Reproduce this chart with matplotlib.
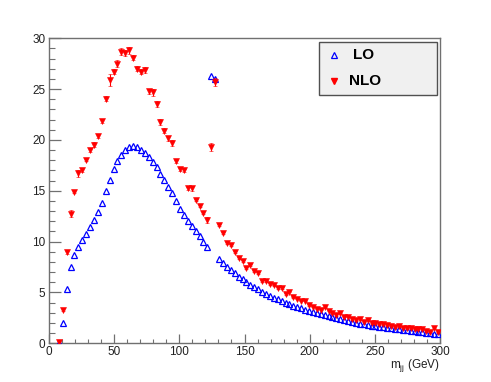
import numpy as np
import matplotlib
matplotlib.use("Agg")
import matplotlib.pyplot as plt
from matplotlib.patches import Rectangle

plt.rcParams['font.family'] = ['Liberation Sans', 'DejaVu Sans']
plt.rcParams['mathtext.fontset'] = 'custom'
plt.rcParams['mathtext.rm'] = 'Liberation Sans'

# bin centres (3 GeV bins), starting at 7.5 GeV
mjj = np.arange(7.5, 300, 3.0)

lo = [0.05, 2.0, 5.35, 7.55, 8.7, 9.44, 10.13, 10.78, 11.41, 12.13,
      12.91, 13.83, 15.0, 16.1, 17.12, 17.93, 18.55, 19.02, 19.3, 19.42,
      19.3, 19.05, 18.74, 18.35, 17.86, 17.3, 16.68, 16.02, 15.4, 14.75,
      13.96, 13.25, 12.65, 12.05, 11.55, 11.05, 10.55, 10.0, 9.5, 26.3,
      26.0, 8.27, 7.9, 7.54, 7.21, 6.88, 6.57, 6.29, 6.03, 5.77,
      5.54, 5.31, 5.08, 4.87, 4.67, 4.48, 4.31, 4.15, 4.0, 3.85,
      3.71, 3.58, 3.45, 3.32, 3.2, 3.08, 2.96, 2.85, 2.75, 2.64,
      2.54, 2.44, 2.35, 2.26, 2.17, 2.08, 2.0, 1.93, 1.86, 1.8,
      1.74, 1.68, 1.62, 1.57, 1.52, 1.47, 1.42, 1.37, 1.32, 1.28,
      1.23, 1.19, 1.14, 1.1, 1.05, 1.0, 0.94, 0.87]

nlo = [0.1, 3.3, 8.97, 12.73, 14.9, 16.72, 17.08, 18.07, 19.05, 19.52,
       20.39, 21.9, 24.05, 25.9, 26.71, 27.52, 28.7, 28.52, 28.8, 28.08,
       27.0, 26.69, 26.84, 24.8, 24.67, 23.5, 21.77, 20.91, 20.17, 19.67,
       17.9, 17.12, 17.0, 15.24, 15.24, 14.07, 13.55, 12.85, 12.13, 19.3,
       25.7, 11.64, 10.82, 9.9, 9.64, 8.95, 8.42, 8.13, 7.44, 7.7,
       7.14, 6.95, 6.13, 6.13, 5.86, 5.7, 5.41, 5.41, 4.82, 5.08,
       4.52, 4.39, 4.19, 4.19, 3.77, 3.6, 3.4, 3.3, 3.54, 3.21,
       2.95, 2.78, 2.95, 2.62, 2.62, 2.4, 2.29, 2.39, 2.13, 2.29,
       1.97, 1.97, 1.87, 1.87, 1.8, 1.74, 1.57, 1.7, 1.54, 1.48,
       1.48, 1.41, 1.38, 1.41, 1.21, 1.15, 1.48, 1.08]

nlo_err = [0.15, 0.15, 0.15, 0.35, 0.15, 0.35, 0.2, 0.15, 0.2, 0.25,
           0.15, 0.2, 0.25, 0.6, 0.25, 0.3, 0.3, 0.3, 0.3, 0.25,
           0.25, 0.25, 0.3, 0.25, 0.3, 0.3, 0.25, 0.25, 0.25, 0.3,
           0.15, 0.15, 0.15, 0.15, 0.25, 0.1, 0.15, 0.15, 0.25, 0.4,
           0.35, 0.1, 0.1, 0.1, 0.1, 0.1, 0.1, 0.1, 0.1, 0.1,
           0.1, 0.1, 0.08, 0.08, 0.08, 0.08, 0.08, 0.08, 0.08, 0.08,
           0.07, 0.07, 0.07, 0.07, 0.07, 0.07, 0.07, 0.07, 0.07, 0.07,
           0.06, 0.06, 0.06, 0.06, 0.06, 0.06, 0.06, 0.06, 0.06, 0.06,
           0.05, 0.05, 0.05, 0.05, 0.05, 0.05, 0.05, 0.05, 0.05, 0.05,
           0.05, 0.05, 0.05, 0.05, 0.05, 0.05, 0.05, 0.05]

labels = ['LO', 'NLO']

fig = plt.figure(figsize=(4.91, 3.82), dpi=100)
ax = fig.add_axes([49/491, 1-343.3/382, 391/491, 305/382])

ax.plot(mjj, lo, linestyle='none', marker='^', ms=4.0, mfc='none',
        mec='#0000ff', mew=0.9, zorder=3)
ax.errorbar(mjj, nlo, yerr=nlo_err, fmt='v', ms=4.2, color='#ff0000',
            mec='#ff0000', mew=0.4, elinewidth=0.8, capsize=1.3,
            capthick=0.8, zorder=4)

ax.set_xlim(0, 300)
ax.set_ylim(0, 30)
ax.set_xticks(np.arange(0, 301, 50))
ax.set_xticks(np.arange(0, 301, 10), minor=True)
ax.set_yticks(np.arange(0, 31, 5))
ax.set_yticks(np.arange(0, 31, 1), minor=True)

axcol = '#707070'
for s in ax.spines.values():
    s.set_color(axcol)
    s.set_linewidth(1.0)
ax.tick_params(axis='y', which='major', direction='in', length=8.6, width=0.9,
               color=axcol, labelsize=8.5, pad=2.5, labelcolor='#222222')
ax.tick_params(axis='y', which='minor', direction='in', length=4.3, width=0.8,
               color=axcol)
ax.tick_params(axis='x', which='major', direction='in', length=6.3, width=0.9,
               color=axcol, labelsize=8.5, pad=2.0, labelcolor='#222222')
ax.tick_params(axis='x', which='minor', direction='in', length=3.2, width=0.8,
               color=axcol)

ax.set_xlabel('m$_{\\mathregular{jj}}$ (GeV)', fontsize=8.5, color='#222222',
              loc='right', labelpad=-1)

# legend box
lx0, lx1 = (318.7-49)/391, (436.7-49)/391
ly0, ly1 = (343.3-95)/305, (343.3-41.7)/305
ax.add_patch(Rectangle((lx0, ly0), lx1-lx0, ly1-ly0, transform=ax.transAxes,
                       facecolor='#f0f0f0', edgecolor='#505050', lw=1.0,
                       zorder=5, clip_on=False))
mx = (333.7-49)/391
y_lo = (343.3-55)/305
y_nlo = (343.3-81.3)/305
ax.plot([mx], [y_lo], transform=ax.transAxes, marker='^', ms=4.0, mfc='none',
        mec='#0000ff', mew=0.9, zorder=6, clip_on=False)
ax.plot([mx], [y_nlo], transform=ax.transAxes, marker='v', ms=4.2,
        color='#ff0000', zorder=6, clip_on=False)
ax.text((352.5-49)/391, y_lo, labels[0], transform=ax.transAxes, fontsize=11,
        fontweight='bold', va='center', ha='left', zorder=7)
ax.text((348.5-49)/391, y_nlo, labels[1], transform=ax.transAxes, fontsize=11,
        fontweight='bold', va='center', ha='left', zorder=7)

fig.savefig('out.png', dpi=100)
